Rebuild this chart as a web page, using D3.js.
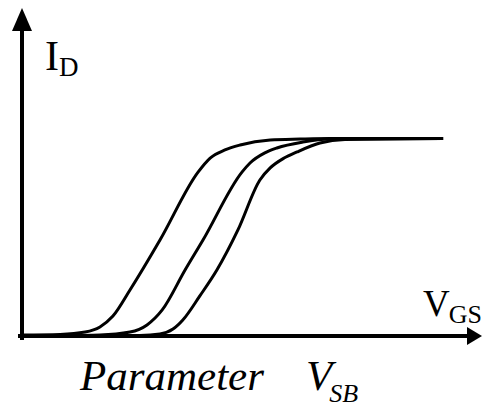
<!DOCTYPE html>
<html>
<head>
<meta charset="utf-8">
<script src="https://cdn.jsdelivr.net/npm/d3@7"></script>
<style>
  html, body { margin: 0; padding: 0; background: #fff; }
  svg { display: block; }
</style>
</head>
<body>
<svg id="chart" width="483" height="408"></svg>
<script>
// V_GS (arbitrary units) and I_D (normalized) for three V_SB values
const curve1X = [0, 0.85, 1.41, 1.74, 2.03, 2.41, 3.08, 3.93, 4.20, 4.53, 4.87, 5.54, 6.21, 6.88, 9.40];
const curve1Y = [0.005, 0.008, 0.02, 0.046, 0.101, 0.233, 0.486, 0.83, 0.901, 0.942, 0.967, 0.992, 0.997, 1.0, 1.0];
const curve2X = [0, 1.74, 2.41, 2.79, 3.13, 3.64, 4.04, 4.91, 5.09, 5.42, 5.69, 6.27, 6.88, 9.40];
const curve2Y = [0, 0.005, 0.02, 0.056, 0.132, 0.334, 0.486, 0.83, 0.876, 0.927, 0.952, 0.982, 0.997, 1.0];
const curve3X = [0, 2.63, 3.08, 3.37, 3.59, 3.97, 4.35, 4.82, 5.31, 5.54, 5.85, 6.14, 6.65, 7.21, 9.40];
const curve3Y = [0, 0.003, 0.01, 0.035, 0.081, 0.203, 0.334, 0.537, 0.79, 0.851, 0.901, 0.932, 0.977, 0.995, 1.0];

const yLabel = "I", yLabelSub = "D";
const xLabel = "V", xLabelSub = "GS";
const captionMain = "Parameter", captionVar = "V", captionSub = "SB";

const FONT = "'Liberation Serif', 'Times New Roman', Times, serif";
const svg = d3.select("#chart");

const x = d3.scaleLinear().domain([0, 10]).range([22, 470]);
const y = d3.scaleLinear().domain([0, 1]).range([336, 138.5]);

// Axes (no ticks), drawn with d3 axes
const xAxis = svg.append("g")
  .attr("transform", `translate(0,${y(0)})`)
  .call(d3.axisBottom(x).tickValues([]).tickSizeOuter(0));
xAxis.select(".domain").attr("stroke", "#000").attr("stroke-width", 4)
  .attr("d", `M${x(0) - 4},0H${x(10)}`);

const yAxis = svg.append("g")
  .attr("transform", `translate(${x(0)},0)`)
  .call(d3.axisLeft(y).tickValues([]).tickSizeOuter(0));
yAxis.select(".domain").attr("stroke", "#000").attr("stroke-width", 4)
  .attr("d", `M0,${y(0) + 4}V28`);

// arrow heads
svg.append("path")
  .attr("d", `M${x(0)},8L${x(0) - 10},31L${x(0) + 10},31Z`)
  .attr("fill", "#000");
svg.append("path")
  .attr("d", `M482,${y(0)}L467,${y(0) - 9}L467,${y(0) + 9}Z`)
  .attr("fill", "#000");

// curves
const series = [
  curve1X.map((v, i) => [v, curve1Y[i]]),
  curve2X.map((v, i) => [v, curve2Y[i]]),
  curve3X.map((v, i) => [v, curve3Y[i]])
];
const line = d3.line()
  .x(d => x(d[0]))
  .y(d => y(d[1]))
  .curve(d3.curveMonotoneX);

svg.selectAll("path.curve")
  .data(series)
  .join("path")
  .attr("class", "curve")
  .attr("d", line)
  .attr("fill", "none")
  .attr("stroke", "#000")
  .attr("stroke-width", 3);

// Labels
const yl = svg.append("text").attr("x", 45).attr("y", 70)
  .attr("font-family", FONT).attr("font-size", 42).attr("fill", "#000");
yl.append("tspan").text(yLabel);
yl.append("tspan").attr("dy", 6).attr("font-size", 27).text(yLabelSub);

const xl = svg.append("text").attr("x", 423).attr("y", 316)
  .attr("font-family", FONT).attr("font-size", 37).attr("fill", "#000");
xl.append("tspan").text(xLabel);
xl.append("tspan").attr("dy", 7).attr("dx", -1).attr("font-size", 26).text(xLabelSub);

const cap = svg.append("text").attr("x", 80).attr("y", 390)
  .attr("font-family", FONT).attr("font-size", 43).attr("font-style", "italic").attr("fill", "#000");
cap.append("tspan").text(captionMain);
cap.append("tspan").attr("x", 306).text(captionVar);
cap.append("tspan").attr("dy", 12).attr("dx", -3).attr("font-size", 26).text(captionSub);
</script>
</body>
</html>
